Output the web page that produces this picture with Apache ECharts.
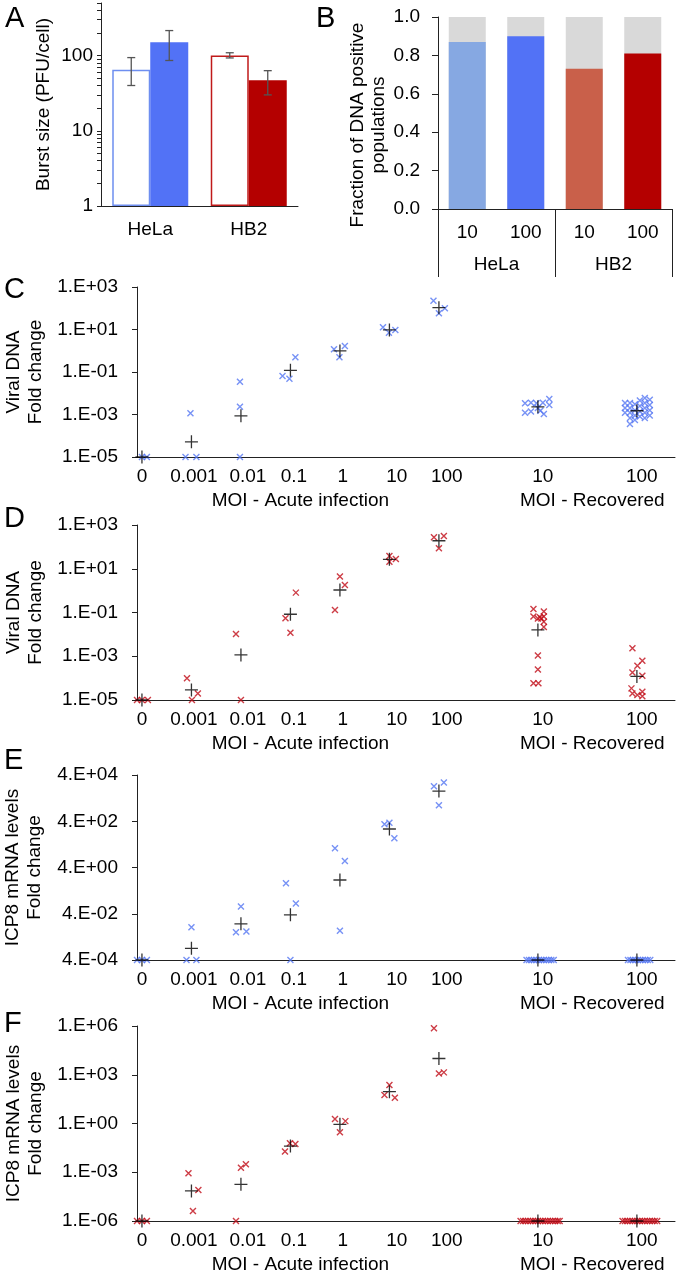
<!DOCTYPE html>
<html>
<head>
<meta charset="utf-8">
<script src="https://cdn.jsdelivr.net/npm/echarts@6/dist/echarts.min.js"></script>
<style>
html, body { margin: 0; padding: 0; background: #fff; }
#fig { width: 677px; height: 1275px; }
</style>
</head>
<body>
<div id="fig"></div>
<script>
var FONT = '"Liberation Sans", Arial, sans-serif';
var BLUE = '#5577f2', RED = '#c00d18', AXIS = '#222';

/* A - burst size */
var aCats = ['HeLa', 'HB2'];
var aOpen = [65, 100];
var aFilled = [150, 47];
var aOpenErr = [[40, 94], [93, 109]];
var aFilledErr = [[86, 215], [30, 63]];
var aTicks = [1, 2, 3, 4, 5, 6, 7, 8, 9, 10, 20, 30, 40, 50, 60, 70, 80, 90, 100, 200, 300, 400, 500];

/* B - fraction DNA positive */
var bMoi = ['10', '100', '10', '100'];
var bCells = ['HeLa', 'HB2'];
var bPositive = [0.87, 0.90, 0.73, 0.81];
var bTotal = [1, 1, 1, 1];
var bColors = ['#86a8e2', '#5272f6', '#c9604a', '#b40000'];

/* C-F x axis: MOI slots 0..6 acute, 8 and 10 recovered */
var moiPos = [0, 1.05, 2.14, 3.07, 4.06, 5.15, 6.16, 8.1, 10.1];
var moiLabels = ['0', '0.001', '0.01', '0.1', '1', '10', '100', '10', '100'];
var groupPos = [3.2, 9.1];
var groupLabels = ['MOI - Acute infection', 'MOI - Recovered'];

/* C - viral DNA, HeLa */
var cAcute = [[-0.12, 1e-5], [0, 1e-5], [0.1, 1e-5],
  [0.98, 1.15e-3], [0.88, 1e-5], [1.1, 1e-5],
  [1.98, 3.5e-2], [1.98, 2.3e-3], [1.98, 1e-5],
  [2.84, 6.5e-2], [2.98, 4.8e-2], [3.1, 0.49],
  [3.88, 1.17], [3.99, 0.49], [4.1, 1.67],
  [4.87, 12.6], [4.99, 7.1], [5.12, 9.5],
  [5.89, 228], [6.12, 100], [6.0, 58]];
var cRecovered = [[7.74, 3.4e-3], [7.74, 1.2e-3], [7.86, 3.6e-3], [7.86, 1.4e-3], [7.97, 3.4e-3],
  [8.1, 3.6e-3], [8.12, 1.05e-3], [8.23, 5.3e-3], [8.23, 2.8e-3], [8.0, 2.0e-3], [8.05, 1.5e-3],
  [9.76, 3.5e-3], [9.76, 2.0e-3], [9.76, 1.2e-3],
  [9.86, 3.5e-3], [9.86, 2.0e-3], [9.86, 1.2e-3], [9.86, 6.8e-4], [9.86, 3.6e-4],
  [9.96, 3.0e-3], [9.96, 1.6e-3], [9.96, 9e-4], [9.96, 5.5e-4],
  [10.06, 4.5e-3], [10.06, 2.5e-3], [10.06, 1.4e-3], [10.06, 8e-4],
  [10.16, 6.0e-3], [10.16, 3.5e-3], [10.16, 2.0e-3], [10.16, 1.2e-3], [10.16, 6.8e-4],
  [10.26, 5.0e-3], [10.26, 2.8e-3], [10.26, 1.6e-3], [10.26, 9e-4]];
var cMeans = [[0, 1e-5], [1, 5.2e-5], [2, 8.7e-4], [3, 0.12], [4, 0.98], [5, 9.5], [6, 106], [8, 2.3e-3], [10, 1.5e-3]];

/* D - viral DNA, HB2 */
var dAcute = [[-0.1, 1e-5], [0, 1e-5], [0.12, 1e-5],
  [0.91, 9.8e-5], [1.01, 1e-5], [1.13, 2.0e-5],
  [1.9, 1.05e-2], [2.0, 1e-5],
  [2.9, 5.4e-2], [3.0, 1.2e-2], [3.11, 0.81],
  [4.0, 4.4], [4.1, 1.8], [3.9, 0.13],
  [5.0, 38], [5.0, 21], [5.13, 28],
  [5.9, 274], [6.1, 316], [6.0, 86]];
var dRecovered = [[7.91, 0.145], [7.91, 6.5e-2], [8.0, 5.3e-2], [8.04, 6.0e-2], [8.12, 0.11], [8.12, 6.5e-2],
  [8.12, 3.8e-2], [8.12, 2.2e-2], [8.07, 5.3e-2], [8.0, 1.07e-3], [8.0, 2.5e-4], [7.91, 5.8e-5], [8.01, 5.8e-5],
  [9.91, 2.3e-3], [10.11, 6.3e-4], [10.01, 3.7e-4], [9.91, 1.8e-4], [10.11, 1.3e-4],
  [9.89, 3.4e-5], [9.91, 2.0e-5], [10.01, 1.7e-5], [10.11, 2.4e-5], [10.11, 1.5e-5]];
var dMeans = [[0, 1e-5], [1, 2.9e-5], [2, 1.15e-3], [3, 8.3e-2], [4, 1.07], [5, 27], [6, 191], [8, 1.6e-2], [10, 1.2e-4]];

/* E - ICP8 mRNA, HeLa */
var eFloor = 4e-4;
var eAcute = [[-0.1, 4e-4], [0, 4e-4], [0.1, 4e-4],
  [1.0, 1.04e-2], [0.9, 4e-4], [1.1, 4e-4],
  [2.0, 8.2e-2], [1.9, 6.3e-3], [2.11, 6.9e-3],
  [2.91, 0.83], [3.11, 0.11], [3.0, 4e-4],
  [3.9, 27], [4.1, 7.6], [4.0, 7.4e-3],
  [4.9, 295], [5.0, 345], [5.1, 73],
  [5.9, 1.3e4], [6.1, 1.9e4], [6.0, 1.96e3]];
var eRec10X = [7.77, 7.82, 7.87, 7.92, 7.97, 8.02, 8.07, 8.12, 8.17, 8.22, 8.27, 8.32];
var eRec100X = [9.82, 9.87, 9.92, 9.97, 10.02, 10.07, 10.12, 10.17, 10.22, 10.27];
var eMeans = [[0, 4e-4], [1, 1.28e-3], [2, 1.46e-2], [3, 3.6e-2], [4, 1.15], [5, 185], [6, 8.1e3], [8, 4e-4], [10, 4e-4]];

/* F - ICP8 mRNA, HB2 */
var fFloor = 1e-6;
var fAcute = [[-0.1, 1e-6], [0, 1e-6], [0.1, 1e-6],
  [0.94, 8.7e-4], [1.14, 8.2e-5], [1.03, 4.1e-6],
  [2.0, 1.9e-3], [2.1, 3.1e-3], [1.9, 1e-6],
  [2.89, 1.9e-2], [2.99, 6e-2], [3.1, 5.5e-2],
  [3.9, 1.9], [4.11, 1.4], [4.0, 0.29],
  [5.0, 234], [4.9, 57], [5.11, 39],
  [5.9, 7.2e5], [6.0, 1.2e3], [6.1, 1.4e3]];
var fRec10X = [7.65, 7.7, 7.75, 7.8, 7.85, 7.9, 7.95, 8.0, 8.05, 8.1, 8.15, 8.2, 8.25, 8.3, 8.35, 8.4, 8.44];
var fRec100X = [9.71, 9.76, 9.81, 9.86, 9.91, 9.96, 10.01, 10.06, 10.11, 10.16, 10.21, 10.26, 10.31, 10.36, 10.41];
var fMeans = [[0, 1e-6], [1, 7.1e-5], [2, 1.8e-4], [3, 4.1e-2], [4, 0.89], [5, 91], [6, 1.0e4], [8, 1e-6], [10, 1e-6]];

function sci(v) {
  var s = Number(v).toExponential(0).split('e');
  var e = parseInt(s[1], 10);
  return s[0] + '.E' + (e < 0 ? '-' : '+') + (Math.abs(e) < 10 ? '0' : '') + Math.abs(e);
}
function nearest(list, v) {
  var best = 0;
  for (var i = 1; i < list.length; i++) {
    if (Math.abs(list[i] - v) < Math.abs(list[best] - v)) best = i;
  }
  return best;
}

var txt = { fontSize: 19, color: '#000', fontFamily: FONT };
var grids = [
  { left: 101, top: 3, width: 197, height: 203 },
  { left: 438, top: 17, width: 234, height: 192 },
  { left: 137, top: 287, width: 538, height: 170 },
  { left: 137, top: 525, width: 538, height: 175 },
  { left: 137, top: 775, width: 538, height: 185 },
  { left: 137, top: 1026, width: 538, height: 195 }
].map(function (g) { g.outerBoundsMode = 'none'; g.containLabel = false; return g; });

var xAxes = [
  { type: 'category', gridIndex: 0, data: aCats, position: 'bottom',
    axisLine: { lineStyle: { color: AXIS } }, axisTick: { show: false },
    axisLabel: Object.assign({ margin: 14 }, txt) },
  { type: 'category', gridIndex: 1, data: bMoi, position: 'bottom',
    axisLine: { lineStyle: { color: AXIS } }, axisTick: { show: false },
    axisLabel: Object.assign({ margin: 14 }, txt) },
  { type: 'category', gridIndex: 1, data: bCells, position: 'bottom',
    axisLine: { show: false },
    axisTick: { show: true, length: 68, lineStyle: { color: AXIS } },
    axisLabel: Object.assign({ margin: 46 }, txt) }
];
var yAxes = [
  { type: 'log', gridIndex: 0, logBase: 10, min: 1, max: 500,
    axisLine: { show: true, onZero: false, lineStyle: { color: AXIS } },
    axisTick: { show: true, length: 4, customValues: aTicks, lineStyle: { color: AXIS } },
    axisLabel: Object.assign({ margin: 8, customValues: [1, 10, 100] }, txt),
    splitLine: { show: false },
    name: 'Burst size (PFU/cell)', nameLocation: 'middle', nameGap: 48,
    nameTextStyle: txt },
  { type: 'value', gridIndex: 1, min: 0, max: 1, interval: 0.2,
    axisLine: { show: true, lineStyle: { color: AXIS } },
    axisTick: { show: true, length: 6, lineStyle: { color: AXIS } },
    axisLabel: Object.assign({ margin: 18, formatter: function (v) { return v.toFixed(1); } }, txt),
    splitLine: { show: false },
    name: 'Fraction of DNA positive\npopulations', nameLocation: 'middle', nameGap: 43,
    nameTextStyle: Object.assign({ lineHeight: 21, padding: [0, 24, 0, 0] }, txt) }
];

function errBars(data, shift) {
  return {
    type: 'custom', xAxisIndex: 0, yAxisIndex: 0, z: 5, silent: true,
    data: data.map(function (d, i) { return [i, d[0], d[1]]; }),
    renderItem: function (params, api) {
      var lo = api.coord([api.value(0), api.value(1)]);
      var hi = api.coord([api.value(0), api.value(2)]);
      var x = lo[0] + shift, w = 4, st = { stroke: '#555', lineWidth: 1.3 };
      return { type: 'group', children: [
        { type: 'line', shape: { x1: x, y1: lo[1], x2: x, y2: hi[1] }, style: st },
        { type: 'line', shape: { x1: x - w, y1: lo[1], x2: x + w, y2: lo[1] }, style: st },
        { type: 'line', shape: { x1: x - w, y1: hi[1], x2: x + w, y2: hi[1] }, style: st }
      ] };
    }
  };
}

var series = [
  { type: 'bar', xAxisIndex: 0, yAxisIndex: 0, barWidth: 38, barGap: '0%',
    data: [
      { value: aOpen[0], itemStyle: { color: '#fff', borderColor: '#6e8ef0', borderWidth: 1.5 } },
      { value: aOpen[1], itemStyle: { color: '#fff', borderColor: '#c01a1a', borderWidth: 1.5 } }
    ] },
  { type: 'bar', xAxisIndex: 0, yAxisIndex: 0, barWidth: 38, barGap: '0%',
    data: [
      { value: aFilled[0], itemStyle: { color: '#5272f6' } },
      { value: aFilled[1], itemStyle: { color: '#b40000' } }
    ] },
  errBars(aOpenErr, -19),
  errBars(aFilledErr, 19),
  { type: 'bar', xAxisIndex: 1, yAxisIndex: 1, barWidth: 37, barGap: '-100%',
    data: bTotal, itemStyle: { color: '#d9d9d9' } },
  { type: 'bar', xAxisIndex: 1, yAxisIndex: 1, barWidth: 37, barGap: '-100%',
    data: bPositive.map(function (v, i) { return { value: v, itemStyle: { color: bColors[i] } }; }) }
];

var XMARK = 'path://M0 0L10 10M10 0L0 10';
var PLUS = 'path://M5 0L5 10M0 5L10 5';

function scatterPanel(g, yMin, yMax, yInt, name, gap, color, acute, recovered, means) {
  var xi = xAxes.length, yi = yAxes.length;
  xAxes.push({ type: 'value', gridIndex: g, min: -0.1, max: 10.77, position: 'bottom',
    axisLine: { show: true, onZero: false, lineStyle: { color: AXIS } },
    axisTick: { show: false }, splitLine: { show: false },
    axisLabel: Object.assign({ margin: 10, customValues: moiPos,
      formatter: function (v) { return moiLabels[nearest(moiPos, v)]; } }, txt) });
  xAxes.push({ type: 'value', gridIndex: g, min: -0.1, max: 10.77, position: 'bottom',
    axisLine: { show: false }, axisTick: { show: false }, splitLine: { show: false },
    axisLabel: Object.assign({ margin: 34, customValues: groupPos,
      formatter: function (v) { return groupLabels[nearest(groupPos, v)]; } }, txt) });
  yAxes.push({ type: 'log', gridIndex: g, logBase: 10, min: yMin, max: yMax, interval: yInt,
    axisLine: { show: true, onZero: false, lineStyle: { color: AXIS } },
    axisTick: { show: true, length: 5, lineStyle: { color: AXIS } },
    axisLabel: Object.assign({ margin: 19, formatter: sci }, txt),
    splitLine: { show: false },
    name: name, nameLocation: 'middle', nameGap: gap,
    nameTextStyle: Object.assign({ lineHeight: 22 }, txt) });
  var xStyle = { color: color, borderColor: color, borderWidth: 1.4 };
  series.push({ type: 'scatter', xAxisIndex: xi, yAxisIndex: yi, symbol: XMARK, symbolSize: 6,
    itemStyle: xStyle, data: acute.concat(recovered) });
  series.push({ type: 'scatter', xAxisIndex: xi, yAxisIndex: yi, symbol: PLUS, symbolSize: 13, z: 4,
    itemStyle: { color: '#000', borderColor: '#000', borderWidth: 1.3 }, data: means });
}

scatterPanel(2, 1e-5, 1e3, 2, 'Viral DNA\nFold change', 87, BLUE, cAcute, cRecovered, cMeans);
scatterPanel(3, 1e-5, 1e3, 2, 'Viral DNA\nFold change', 87, RED, dAcute, dRecovered, dMeans);
scatterPanel(4, 4e-4, 4e4, 2, 'ICP8 mRNA levels\nFold change', 91, BLUE, eAcute,
  eRec10X.concat(eRec100X).map(function (x) { return [x, eFloor]; }), eMeans);
scatterPanel(5, 1e-6, 1e6, 3, 'ICP8 mRNA levels\nFold change', 89, RED, fAcute,
  fRec10X.concat(fRec100X).map(function (x) { return [x, fFloor]; }), fMeans);

function letter(t, x, y) {
  return { text: t, left: x, top: y, padding: 0,
    textStyle: { fontSize: 29, fontWeight: 'normal', color: '#000', fontFamily: FONT } };
}

var chart = echarts.init(document.getElementById('fig'), null, { renderer: 'canvas' });
chart.setOption({
  animation: false,
  backgroundColor: '#fff',
  title: [letter('A', 5, 4), letter('B', 316, 4), letter('C', 4, 275), letter('D', 4, 504),
    letter('E', 4, 746), letter('F', 4, 1009)],
  grid: grids,
  xAxis: xAxes,
  yAxis: yAxes,
  series: series
});
</script>
</body>
</html>
